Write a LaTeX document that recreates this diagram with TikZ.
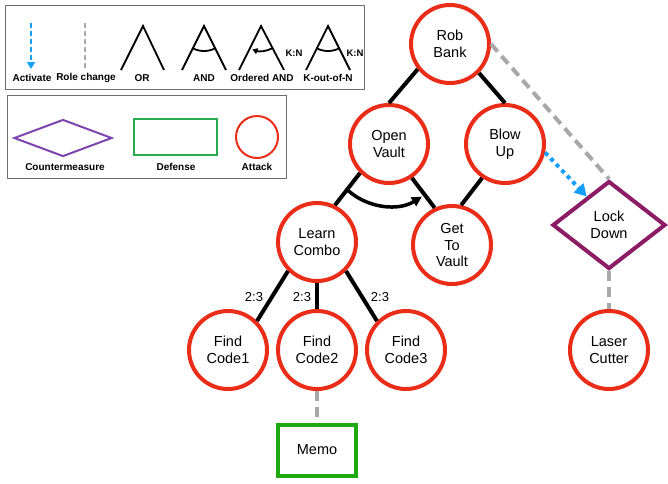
\documentclass[tikz,border=0pt]{standalone}
\usepackage{fontspec}
\setmainfont{Liberation Sans}
\usetikzlibrary{shapes.geometric,arrows.meta,calc}
\definecolor{atkred}{RGB}{234,45,25}
\definecolor{defgreen}{RGB}{30,170,15}
\definecolor{cmpurple}{RGB}{140,28,100}
\definecolor{actblue}{RGB}{20,160,250}
\definecolor{rolegrey}{RGB}{168,168,168}
\definecolor{lgpurple}{RGB}{125,70,175}
\definecolor{lggreen}{RGB}{40,170,80}
\definecolor{boxgrey}{RGB}{110,110,110}
\begin{document}
\begin{tikzpicture}[x=1pt,y=-1pt,
  nodefont/.style={font=\fontsize{14.5}{16.5}\selectfont},
  attack/.style={circle,draw=atkred,line width=4pt,minimum size=78pt,inner sep=0pt,align=center,nodefont},
  defense/.style={rectangle,draw=defgreen,line width=4pt,minimum width=78pt,minimum height=51pt,inner sep=0pt,nodefont},
  counter/.style={diamond,draw=cmpurple,line width=4pt,minimum width=113pt,minimum height=88pt,inner sep=0pt,align=center,nodefont},
  treeedge/.style={line width=4pt,black},
  roleedge/.style={line width=4pt,rolegrey,dash pattern=on 10pt off 6pt},
  actedge/.style={line width=4pt,actblue,dash pattern=on 4pt off 4pt,-{Triangle[length=12pt,width=13pt]}},
  orderarc/.style={line width=3.5pt,black,-{Triangle[length=10pt,width=10pt]}},
  kn/.style={font=\fontsize{13}{15}\selectfont},
  lgtext/.style={font=\bfseries\fontsize{10}{12}\selectfont},
  lgkn/.style={font=\bfseries\fontsize{9.5}{11}\selectfont},
  gate/.style={line width=1.8pt,black},
  lgbox/.style={draw=boxgrey,line width=1pt}
]
\useasboundingbox (0,0) rectangle (668,483);

% ---------- legend box 1 ----------
\draw[lgbox] (5,5) rectangle (364,89);
\draw[line width=2.8pt,actblue,dash pattern=on 5pt off 3pt,-{Triangle[length=7pt,width=8pt]}] (31,23) -- (31,69);
\draw[line width=2.8pt,rolegrey,dash pattern=on 5pt off 3pt] (85,23) -- (85,68);
\node[lgtext] (tact) at (32,78) {Activate};
\node[lgtext] (trole) at (86,78) {Role change};
% OR
\draw[gate] (121,70) -- (143,26) -- (164,70);
\node[lgtext] (tor) at (142,78) {OR};
% AND
\draw[gate] (182,70) -- (204,26) -- (226,70);
\draw[gate] ($(204,26)+(-118:25pt)$) arc[start angle=-118,end angle=-62,radius=25pt];
\node[lgtext] (tand) at (204,78) {AND};
% Ordered AND
\draw[gate] (239,70) -- (261,26) -- (284,70);
\draw[gate,-{Triangle[length=5pt,width=6pt]}] ($(261,26)+(-62:25pt)$) arc[start angle=-62,end angle=-110,radius=25pt];
\node[lgtext] (toand) at (262,78) {Ordered AND};
% K-out-of-N
\draw[gate] (306,70) -- (328,26) -- (350,70);
\draw[gate] ($(328,26)+(-118:25pt)$) arc[start angle=-118,end angle=-62,radius=25pt];
\node[lgkn] (tknl) at (294,53) {K:N};
\node[lgkn] (tknr) at (355,53) {K:N};
\node[lgtext] (tkofn) at (328,78) {K-out-of-N};

% ---------- legend box 2 ----------
\draw[lgbox] (7,95) rectangle (286,178);
\node[diamond,draw=lgpurple,line width=2pt,minimum width=98pt,minimum height=37pt,inner sep=0pt] (lgcm) at (63,138) {};
\node[rectangle,draw=lggreen,line width=2pt,minimum width=83pt,minimum height=36pt,inner sep=0pt] (lgdef) at (175,137) {};
\node[circle,draw=atkred,line width=2pt,minimum size=42pt,inner sep=0pt] (lgatk) at (257,137) {};
\node[lgtext] (tcm) at (65,167) {Countermeasure};
\node[lgtext] (tdef) at (176,167) {Defense};
\node[lgtext] (tatk) at (257,167) {Attack};

% ---------- tree nodes ----------
\node[attack] (rob) at (450,44) {Rob\\Bank};
\node[attack] (ov) at (389,144) {Open\\Vault};
\node[attack] (bu) at (505,144) {Blow\\Up};
\node[attack] (gtv) at (452,245) {Get\\To\\Vault};
\node[counter] (lock) at (609,225) {Lock\\Down};
\node[attack] (lc) at (317,242) {Learn\\Combo};
\node[attack] (fc1) at (228,350) {Find\\Code1};
\node[attack] (fc2) at (317,350) {Find\\Code2};
\node[attack] (fc3) at (406,350) {Find\\Code3};
\node[defense] (memo) at (317,450) {Memo};
\node[attack] (laser) at (609,350) {Laser\\Cutter};

% ---------- connectors ----------
\draw[treeedge] (rob.218) -- (ov.north);
\draw[treeedge] (rob.south east) -- (bu.north);
\draw[treeedge] (ov.south west) -- (lc.64);
\draw[treeedge] (ov.-56) -- (gtv.115);
\draw[treeedge] (bu.-124) -- (gtv.77);
\draw[treeedge] (lc.south west) -- (fc1.north east);
\draw[treeedge] (lc.south) -- (fc2.north);
\draw[treeedge] (lc.south east) -- (fc3.north west);
\draw[orderarc] ($(ov.center)+(-131:62pt)$) arc[start angle=-131,end angle=-58,radius=62pt];

\draw[roleedge] (rob.east) -- (lock.north);
\draw[roleedge] (lock.south) -- (laser.north);
\draw[roleedge] (fc2.south) -- (memo.north);
\draw[actedge] (bu.-12) -- (lock.128);

\node[kn] (k1) at (254,297) {2:3};
\node[kn] (k2) at (302,297) {2:3};
\node[kn] (k3) at (380,297) {2:3};
\end{tikzpicture}
\end{document}
